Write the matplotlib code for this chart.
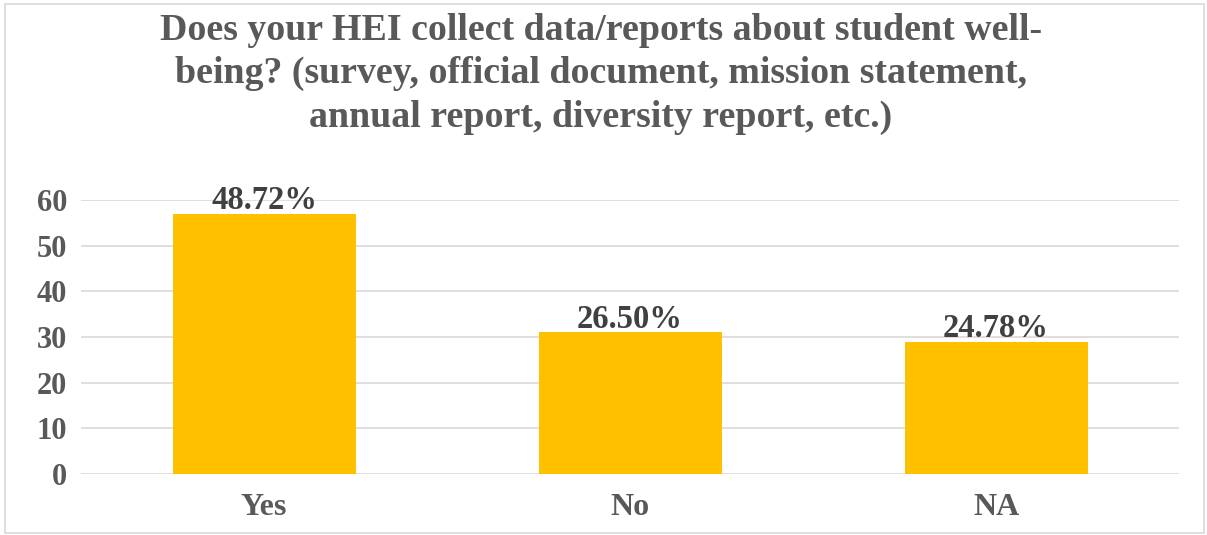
import matplotlib
matplotlib.use("Agg")
import matplotlib.pyplot as plt
from matplotlib.patches import Rectangle

categories = ["Yes", "No", "NA"]
counts = [57, 31, 29]
pct_labels = ["48.72%", "26.50%", "24.78%"]
yticks = [0, 10, 20, 30, 40, 50, 60]
title_lines = ["Does your HEI collect data/reports about student well-",
               "being? (survey, official document, mission statement,",
               "annual report, diversity report, etc.)"]

TXT = "#595959"
BAR = "#FFC000"
GRID = "#D9D9D9"

plt.rcParams['font.family'] = ['Liberation Serif', 'DejaVu Serif']
plt.rcParams['font.weight'] = 'bold'

W, H = 1207, 535
fig = plt.figure(figsize=(W / 100, H / 100), dpi=100)
fig.patch.set_facecolor("white")
fig.patches.append(Rectangle((5 / W, 2 / H), (W - 8) / W, (H - 6) / H,
                             transform=fig.transFigure, fill=False,
                             edgecolor=GRID, linewidth=1.2))

ax = fig.add_axes([81 / W, 1 - 474 / H, (1179 - 81) / W, (474 - 200) / H])
x = list(range(len(categories)))
ax.bar(x, counts, width=0.5, color=BAR, zorder=3)
ax.set_xlim(-0.5, len(categories) - 0.5)
ax.set_ylim(0, 60)
ax.set_yticks(yticks)
ax.set_xticks(x)
ax.set_xticklabels(categories)
for s in ax.spines.values():
    s.set_visible(False)
ax.yaxis.grid(True, color=GRID, linewidth=1.2, zorder=0)
ax.set_axisbelow(True)
ax.tick_params(axis='y', length=0, colors=TXT, labelsize=22, pad=10)
ax.tick_params(axis='x', length=0, colors=TXT, labelsize=23, pad=14)
for lab in ax.get_xticklabels() + ax.get_yticklabels():
    lab.set_fontweight('bold')

for xi, c, lab in zip(x, counts, pct_labels):
    ax.annotate(lab, (xi, c), xytext=(0, 3.5), textcoords='offset points',
                ha='center', va='baseline', fontsize=23.5, fontweight='bold',
                color="#404040")

baselines = [40, 83, 127]
for line, yb in zip(title_lines, baselines):
    fig.text(601 / W, 1 - yb / H, line, ha='center', va='baseline',
             fontsize=27.3, fontweight='bold', color=TXT)

fig.savefig("out.png", dpi=100)
